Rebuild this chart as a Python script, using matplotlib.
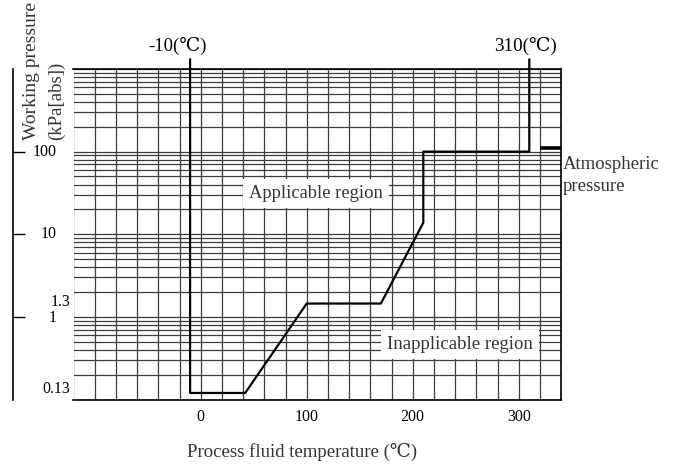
import numpy as np
import matplotlib
matplotlib.use('Agg')
import matplotlib.pyplot as plt
from matplotlib.ticker import LogLocator, NullFormatter

# operating limit curve (temperature in degC, pressure in kPa abs)
temp_c = [-10, -10, 42, 100, 170, 210, 210, 310, 310]
press_kpa = [1300, 0.12, 0.12, 1.45, 1.45, 13.8, 100, 100, 1300]

# atmospheric pressure marker
atm_temp = [320, 340]
atm_press = [110, 110]

x_ticks = [0, 100, 200, 300]
y_marks = [100, 10, 1]
y_labels = ['100', '10', '1.3', '1', '0.13']
y_label_pos = [100, 10, 1.52, 0.97, 0.135]

plt.rcParams['font.family'] = ['Liberation Serif', 'DejaVu Serif', 'Noto Sans CJK JP']

fig = plt.figure(figsize=(6.76, 4.66), dpi=100)
W, H = 676, 466
ax = fig.add_axes([73.5 / W, (H - 399.5) / H, 487.6 / W, 330.5 / H])

ax.set_yscale('log')
ax.set_xlim(-120, 340)
ax.set_ylim(0.1, 1000)

# grid
ax.set_xticks(x_ticks)
ax.set_xticks(np.arange(-120, 341, 20), minor=True)
ax.yaxis.set_major_locator(plt.FixedLocator(y_marks))
ax.yaxis.set_minor_locator(LogLocator(subs=np.arange(1, 10)))
ax.yaxis.set_minor_formatter(NullFormatter())
ax.grid(which='both', color='#3c3c3c', lw=0.9)
ax.set_axisbelow(True)

ax.tick_params(axis='x', which='both', length=0, pad=7, labelsize=11.5)
ax.tick_params(axis='y', which='minor', length=0)
ax.tick_params(axis='y', which='major', direction='in', length=8.6, width=1,
               labelleft=False)

for s in ['top', 'right', 'bottom']:
    ax.spines[s].set_linewidth(1.2)
ax.spines['left'].set_position(('outward', 43.2))
ax.spines['left'].set_linewidth(1.2)
ax.axvline(-120, color='black', lw=1.2)

# curve
ax.plot(temp_c, press_kpa, color='black', lw=1.6, clip_on=False, zorder=5)
ax.plot(atm_temp, atm_press, color='black', lw=2.6, solid_capstyle='butt', zorder=5)

# y tick labels (placed by hand, as in the drawing)
ytr = ax.get_yaxis_transform()
for lab, pos in zip(y_labels, y_label_pos):
    xr = -0.0339 if lab in ('100', '10', '1') else -0.0068
    ax.text(xr, pos, lab, transform=ytr, ha='right', va='center', fontsize=11.5)

box = dict(facecolor='white', edgecolor='none', pad=4.5)
ax.text(109, 31, 'Applicable region', ha='center', va='center',
        fontsize=13.3, color='#333333', bbox=box, zorder=6)
ax.text(244.6, 0.46, 'Inapplicable region', ha='center', va='center',
        fontsize=13.5, color='#333333', bbox=box, zorder=6)
ax.text(341.8, 50.8, 'Atmospheric\npressure', ha='left', va='center',
        fontsize=13.5, color='#333333', linespacing=1.38, clip_on=False)

xtr = ax.get_xaxis_transform()
ax.text(-22, 1.0696, '-10(℃)', transform=xtr, ha='center', va='center', fontsize=13.5)
ax.text(306, 1.0696, '310(℃)', transform=xtr, ha='center', va='center', fontsize=13.8)

fig.text(302 / W, 1 - 452 / H, 'Process fluid temperature (℃)', ha='center',
         va='center', fontsize=13.5, color='#333333')
fig.text(32 / W, 1 - 71 / H, 'Working pressure', rotation=90, ha='center',
         va='center', fontsize=14, color='#333333')
fig.text(56 / W, 1 - 101 / H, '(kPa[abs])', rotation=90, ha='center',
         va='center', fontsize=13.5, color='#333333')

fig.savefig('out.png', dpi=100)
